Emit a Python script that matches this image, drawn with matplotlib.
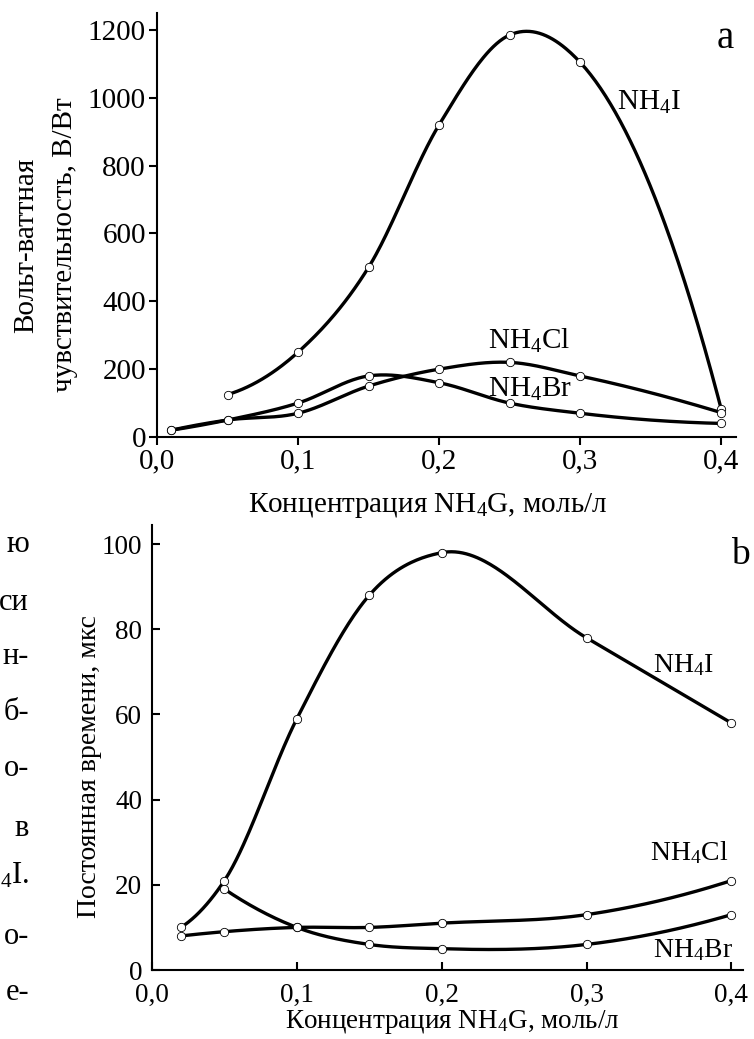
import numpy as np
import matplotlib
matplotlib.use("Agg")
import matplotlib.pyplot as plt
from matplotlib.ticker import FuncFormatter

plt.rcParams["font.family"] = ["Liberation Serif", "DejaVu Serif"]
plt.rcParams["mathtext.fontset"] = "custom"
plt.rcParams["mathtext.rm"] = "Liberation Serif"
plt.rcParams["mathtext.it"] = "Liberation Serif:italic"

# panel a: volt-watt sensitivity, V/W
a_i_x = [0.05, 0.10, 0.15, 0.20, 0.25, 0.30, 0.40]
a_i_y = [125, 250, 500, 920, 1185, 1105, 84]
a_cl_x = [0.01, 0.05, 0.10, 0.15, 0.20, 0.25, 0.30, 0.40]
a_cl_y = [20, 50, 70, 150, 200, 220, 180, 72]
a_br_x = [0.01, 0.05, 0.10, 0.15, 0.20, 0.25, 0.30, 0.40]
a_br_y = [20, 50, 100, 180, 160, 100, 70, 40]

# panel b: time constant, us
b_i_x = [0.02, 0.05, 0.10, 0.15, 0.20, 0.30, 0.40]
b_i_y = [10, 21, 59, 88, 98, 78, 58]
b_cl_x = [0.02, 0.05, 0.10, 0.15, 0.20, 0.30, 0.40]
b_cl_y = [8, 9, 10, 10, 11, 13, 21]
b_br_x = [0.05, 0.10, 0.15, 0.20, 0.30, 0.40]
b_br_y = [19, 10, 6, 5, 6, 13]

x_ticks = [0.0, 0.1, 0.2, 0.3, 0.4]
a_y_ticks = [0, 200, 400, 600, 800, 1000, 1200]
b_y_ticks = [0, 20, 40, 60, 80, 100]

# fragments of the page text cut off on the left
side_text = ["ю", "си", "н-", "б-", "о-", "в", r"$_4$I.", "о-", "е-"]
side_y = [545, 602, 657, 713, 768, 829, 876, 937, 992]


# cubic hermite curve through the points, only used to draw a smooth line
def smooth(x, y, n=300):
    x = np.asarray(x, float)
    y = np.asarray(y, float)
    h = np.diff(x)
    d = np.diff(y) / h
    m = np.empty(len(x))
    m[1:-1] = (d[:-1] * h[1:] + d[1:] * h[:-1]) / (h[:-1] + h[1:])
    m[0] = d[0] + (d[0] - d[1]) * h[0] / (h[0] + h[1])
    m[-1] = d[-1] + (d[-1] - d[-2]) * h[-1] / (h[-1] + h[-2])
    xs = np.linspace(x[0], x[-1], n)
    k = np.clip(np.searchsorted(x, xs) - 1, 0, len(x) - 2)
    t = (xs - x[k]) / h[k]
    h00 = 2 * t ** 3 - 3 * t ** 2 + 1
    h10 = t ** 3 - 2 * t ** 2 + t
    h01 = -2 * t ** 3 + 3 * t ** 2
    h11 = t ** 3 - t ** 2
    ys = h00 * y[k] + h10 * h[k] * m[k] + h01 * y[k + 1] + h11 * h[k] * m[k + 1]
    return xs, ys


def draw(ax, x, y):
    xs, ys = smooth(x, y)
    ax.plot(xs, ys, color="black", lw=2.4, solid_capstyle="round", zorder=2)
    ax.plot(x, y, "o", ms=6, mfc="white", mec="black", mew=0.6, zorder=3)


comma = FuncFormatter(lambda v, p: ("%.1f" % v).replace(".", ","))

fig = plt.figure(figsize=(7.54, 10.39), dpi=100)
W, H = 754.0, 1039.0

# ---- panel a
ax1 = fig.add_axes([157 / W, 1 - 437 / H, (736 - 157) / W, (437 - 13) / H])
draw(ax1, a_i_x, a_i_y)
draw(ax1, a_cl_x, a_cl_y)
draw(ax1, a_br_x, a_br_y)
ax1.set_xlim(0, 0.4106)
ax1.set_ylim(0, 1250)
ax1.set_xticks(x_ticks)
ax1.set_yticks(a_y_ticks)
ax1.xaxis.set_major_formatter(comma)
ax1.tick_params(direction="out", length=6, width=1.5, labelsize=21, pad=2)
for s in ["top", "right"]:
    ax1.spines[s].set_visible(False)
for s in ["left", "bottom"]:
    ax1.spines[s].set_linewidth(1.5)
ax1.text(0.326, 985, r"NH$_4$I", fontsize=21, ha="left", va="center")
ax1.text(0.235, 282, r"NH$_4$Cl", fontsize=21, ha="left", va="center")
ax1.text(0.235, 141, r"NH$_4$Br", fontsize=21, ha="left", va="center")
ax1.text(0.403, 1176, "a", fontsize=28, ha="center", va="center")

fig.text(46 / W, 1 - 245 / H, "Вольт-ваттная\nчувствительность, В/Вт",
         rotation=90, ha="center", va="center", fontsize=21,
         multialignment="center", linespacing=1.65)
fig.text(428 / W, 1 - 505 / H, r"Концентрация NH$_4$G, моль/л",
         ha="center", va="center", fontsize=21)

# ---- panel b
ax2 = fig.add_axes([152 / W, 1 - 970 / H, (743 - 152) / W, (970 - 525) / H])
draw(ax2, b_i_x, b_i_y)
draw(ax2, b_cl_x, b_cl_y)
draw(ax2, b_br_x, b_br_y)
ax2.set_xlim(0, 0.408)
ax2.set_ylim(0, 104.5)
ax2.set_xticks(x_ticks)
ax2.set_yticks(b_y_ticks)
ax2.xaxis.set_major_formatter(comma)
ax2.tick_params(direction="in", length=6, width=1.5, labelsize=19.5)
ax2.tick_params(axis="y", pad=7)
ax2.tick_params(axis="x", pad=9)
for s in ["top", "right"]:
    ax2.spines[s].set_visible(False)
for s in ["left", "bottom"]:
    ax2.spines[s].set_linewidth(1.5)
ax2.text(0.346, 71.5, r"NH$_4$I", fontsize=20, ha="left", va="center")
ax2.text(0.344, 27.5, r"NH$_4$Cl", fontsize=20, ha="left", va="center")
ax2.text(0.346, 4.7, r"NH$_4$Br", fontsize=20, ha="left", va="center")
ax2.text(0.406, 97.5, "b", fontsize=27, ha="center", va="center")

fig.text(90 / W, 1 - 767 / H, "Постоянная времени, мкс",
         rotation=90, ha="center", va="center", fontsize=20)
fig.text(452 / W, 1 - 1022 / H, r"Концентрация NH$_4$G, моль/л",
         ha="center", va="center", fontsize=19.5)

for t, y in zip(side_text, side_y):
    fig.text(29 / W, 1 - y / H, t, ha="right", va="center", fontsize=22)

fig.savefig("out.png", dpi=100, facecolor="white")
